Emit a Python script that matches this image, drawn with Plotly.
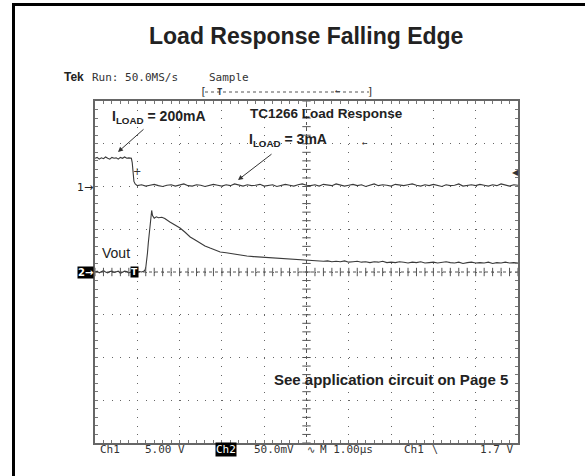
import numpy as np
import plotly.graph_objects as go

# ---------------- data (scope screen, time in µs from left edge) ----------------
# Channel 1 (5.00 V/div, ground marker at +2 div)
ch1_pre_t = [0.00, 0.05, 0.10, 0.15, 0.20, 0.25, 0.30, 0.35, 0.40, 0.45, 0.50,
             0.55, 0.60, 0.65, 0.70, 0.75, 0.80, 0.86]
ch1_pre_v = [3.30, 3.40, 3.20, 3.35, 3.25, 3.45, 3.30, 3.20, 3.40, 3.30, 3.35,
             3.20, 3.40, 3.30, 3.45, 3.30, 3.35, 3.30]
ch1_edge_t = [0.88, 0.90, 0.92, 0.95, 0.98]
ch1_edge_v = [2.80, 1.40, 0.60, 0.30, 0.10]
ch1_post_v = [0.10, 0.20, 0.05, 0.15, 0.25, 0.10, 0.00, 0.15, 0.20, 0.05,
              0.15, 0.30, 0.10, 0.05, 0.20, 0.15, 0.00, 0.10, 0.25, 0.15,
              0.05, 0.20, 0.10, 0.30, 0.15, 0.05, 0.20, 0.10, 0.15, 0.25,
              0.05, 0.15, 0.20, 0.00, 0.10, 0.25, 0.15, 0.05, 0.20, 0.30,
              0.15, 0.10, 0.20, 0.05, 0.25, 0.15, 0.10, 0.30, 0.20, 0.05,
              0.15, 0.25, 0.10, 0.20, 0.00, 0.15, 0.30, 0.10, 0.20, 0.15,
              0.05, 0.25, 0.15, 0.10, 0.20, 0.30, 0.15, 0.05, 0.20, 0.10,
              0.25, 0.15, 0.00, 0.20, 0.10, 0.15, 0.30, 0.05, 0.15, 0.20,
              0.10, 0.25, 0.15, 0.05, 0.20, 0.10, 0.30, 0.15, 0.05, 0.20, 0.15]

# Channel 2 (50.0 mV/div, ground marker at 0 div) - Vout
ch2_pre_mv = [0, 1, -1, 0, 1.5, 0, -1, 0.5, 1, -0.5, 0, 1, -1.5, 0, 1, 0.5,
              -1, 0, 1, 0, -0.5, 0.5, 0, 1]
ch2_resp_t = [1.18, 1.20, 1.22, 1.24, 1.26, 1.28, 1.30, 1.32, 1.34, 1.36, 1.40,
              1.45, 1.50, 1.58, 1.65, 1.77, 1.90, 2.01, 2.13, 2.25, 2.37, 2.48,
              2.60, 2.72, 2.84, 2.96, 3.10, 3.26, 3.42, 3.59, 3.75, 3.90, 4.10,
              4.30, 4.50, 4.68, 4.85, 5.04]
ch2_resp_mv = [2, 5, 12, 22, 34, 46, 56, 64, 72, 66, 63,
               64.5, 63.5, 64, 62.5, 58.5, 55, 51.5, 46.5, 41, 37.5, 34,
               30.5, 28, 25.5, 23.4, 22.5, 21, 19.5, 18.7, 18, 17.5, 16.8,
               16.4, 15.5, 15.2, 14.5, 14]
ch2_tail_mv = [13.5, 13, 13.5, 12.5, 13, 12, 12.5, 12, 13, 11.5,
               12, 12.5, 11.5, 12, 11, 12, 11.5, 12.5, 11, 11.5,
               11, 12, 11.5, 10.5, 11.5, 11, 12, 10.5, 11, 11.5,
               10.5, 11, 12, 11, 10.5, 11.5, 10, 11, 11.5, 10.5,
               11, 10.5, 11.5, 10, 11, 10.5, 11.5, 10.5, 11, 10.5]

CH1_VDIV, CH1_POS = 5.0, 2.0
CH2_VDIV, CH2_POS = 50.0, 0.0

ch1_post_t = list(np.round(np.linspace(1.0, 10.0, len(ch1_post_v)), 3))
ch1_t = ch1_pre_t + ch1_edge_t + ch1_post_t
ch1_v = ch1_pre_v + ch1_edge_v + ch1_post_v
ch1_div = [v / CH1_VDIV + CH1_POS for v in ch1_v]

ch2_pre_t = list(np.round(np.linspace(0.0, 1.15, len(ch2_pre_mv)), 3))
ch2_tail_t = list(np.round(np.linspace(5.1, 10.0, len(ch2_tail_mv)), 3))
ch2_t = ch2_pre_t + ch2_resp_t + ch2_tail_t
ch2_mv = ch2_pre_mv + ch2_resp_mv + ch2_tail_mv
ch2_div = [v / CH2_VDIV + CH2_POS for v in ch2_mv]

# ---------------- figure geometry ----------------
W, H = 585, 476
L, R, T, B = 95, 518, 101, 443


def px(x):
    return (x - L) / (R - L)


def py(y):
    return (B - y) / (B - T)


fig = go.Figure()
TRACE = "#3a3a3a"
fig.add_trace(go.Scatter(x=ch1_t, y=ch1_div, mode="lines",
                         line=dict(color=TRACE, width=1.1), hoverinfo="skip"))
fig.add_trace(go.Scatter(x=ch2_t, y=ch2_div, mode="lines",
                         line=dict(color=TRACE, width=1.1), hoverinfo="skip"))

# center graticule tick crosses
xt = np.round(np.arange(0, 10.001, 0.2), 3)
yt = np.round(np.arange(-4, 4.001, 0.2), 3)
fig.add_trace(go.Scatter(x=xt, y=[0] * len(xt), mode="markers",
                         marker=dict(symbol="line-ns", size=6,
                                     line=dict(color="#555", width=1)),
                         hoverinfo="skip"))
fig.add_trace(go.Scatter(x=[5] * len(yt), y=yt, mode="markers",
                         marker=dict(symbol="line-ew", size=6,
                                     line=dict(color="#555", width=1)),
                         hoverinfo="skip"))

shapes = [
    dict(type="line", xref="x", yref="y", x0=0, x1=10, y0=0, y1=0,
         line=dict(color="#555", width=1, dash="dot"), layer="below"),
    dict(type="line", xref="x", yref="y", x0=5, x1=5, y0=-4, y1=4,
         line=dict(color="#555", width=1, dash="dot"), layer="below"),
    # outer frame (left & top)
    dict(type="line", xref="paper", yref="paper", x0=px(13.5), x1=px(13.5),
         y0=py(3), y1=py(490), line=dict(color="black", width=3)),
    dict(type="line", xref="paper", yref="paper", x0=px(12), x1=px(600),
         y0=py(4.5), y1=py(4.5), line=dict(color="black", width=3)),
    # record-length bracket
    dict(type="line", xref="paper", yref="paper", x0=px(205), x1=px(369),
         y0=py(92), y1=py(92), line=dict(color="#555", width=1, dash="dot")),
]

ann = []


def text(x, y, s, size=12, family="Liberation Sans", color="#222",
         xanchor="left", **kw):
    ann.append(dict(x=px(x), y=py(y), xref="paper", yref="paper", text=s,
                    showarrow=False, xanchor=xanchor, yanchor="middle",
                    font=dict(size=size, family=family, color=color), **kw))


MONO = "DejaVu Sans Mono"
text(306, 36, "<b>Load Response Falling Edge</b>", size=23, xanchor="center")
text(62, 77, "<b>Tek</b>", size=12, color="#222")
text(90, 77, "Run: 50.0MS/s", size=11, family=MONO, color="#333")
text(207, 77, "Sample", size=11, family=MONO, color="#333")
text(203, 92, "[", size=11, family=MONO, color="#333", xanchor="center")
text(370, 92, "]", size=11, family=MONO, color="#333", xanchor="center")
text(220, 92, "<b>T</b>", size=9, family=MONO, color="#333", xanchor="center")
text(338, 91, "←", size=9, family=MONO, color="#333", xanchor="center")

text(110, 117, "<b>I<sub>LOAD</sub> = 200mA</b>", size=14)
text(248, 113, "<b>TC1266 Load Response</b>", size=13.5)
text(247, 140, "<b>I<sub>LOAD</sub> = 3mA</b>", size=14)
text(100, 253, "Vout", size=14)
text(272, 379, "<b>See application circuit on Page 5</b>", size=15)
text(365, 143, "←", size=9, family=MONO, color="#333", xanchor="center")
text(515, 172, "◀", size=8, family="DejaVu Sans", color="#333", xanchor="center")
text(137, 171, "+", size=10, family="DejaVu Sans", color="#333", xanchor="center")

text(85, 187, "1→", size=11, family="DejaVu Sans", color="#222", xanchor="center")
text(85, 272, "<b>2→</b>", size=10, family="DejaVu Sans", color="white",
     xanchor="center", bgcolor="black", borderpad=0)
text(134, 272, "<b>T</b>", size=9, family="DejaVu Sans", color="white",
     xanchor="center", bgcolor="black", borderpad=0)

# bottom status line
BC = "#333"
text(98, 450, "Ch1", size=11, family=MONO, color=BC)
text(143, 450, "5.00 V", size=11, family=MONO, color=BC)
text(215, 450, "Ch2", size=11, family=MONO, color="white", bgcolor="black",
     borderpad=0)
text(252, 450, "50.0mV", size=11, family=MONO, color=BC)
text(305, 450, "∿", size=10, family="DejaVu Sans", color=BC)
text(318, 450, "M 1.00µs", size=11, family=MONO, color=BC)
text(402, 450, "Ch1", size=11, family=MONO, color=BC)
text(430, 450, "\\", size=10, family=MONO, color=BC)
text(478, 450, "1.7 V", size=11, family=MONO, color=BC)

# arrows
ann.append(dict(x=px(118), y=py(152), xref="paper", yref="paper", text="",
                showarrow=True, ax=27, ay=-24, arrowhead=2, arrowsize=1,
                arrowwidth=1, arrowcolor="#333"))
ann.append(dict(x=px(238), y=py(180), xref="paper", yref="paper", text="",
                showarrow=True, ax=35, ay=-27, arrowhead=2, arrowsize=1,
                arrowwidth=1, arrowcolor="#333"))

axis_common = dict(showticklabels=False, zeroline=False, showline=True,
                   linecolor="#666", linewidth=1.5, mirror="allticks",
                   ticks="inside", ticklen=3, tickcolor="#777", tickwidth=1,
                   gridcolor="#666", gridwidth=1, fixedrange=True)
fig.update_layout(
    width=W, height=H,
    margin=dict(l=L, r=W - R, t=T, b=H - B, pad=0),
    paper_bgcolor="white", plot_bgcolor="white",
    showlegend=False,
    xaxis=dict(range=[0, 10], dtick=1, griddash="1px,7.55px",
               minor=dict(dtick=0.2, ticks="inside", ticklen=3,
                          tickcolor="#777", showgrid=False),
               **axis_common),
    yaxis=dict(range=[-4, 4], dtick=1, griddash="1px,7.46px",
               minor=dict(dtick=0.2, ticks="inside", ticklen=3,
                          tickcolor="#777", showgrid=False),
               **axis_common),
    shapes=shapes,
    annotations=ann,
)
fig.write_html("out.html", config={"displayModeBar": False},
               post_script="document.body.style.margin='0';"
                           "document.body.style.overflow='hidden';")
